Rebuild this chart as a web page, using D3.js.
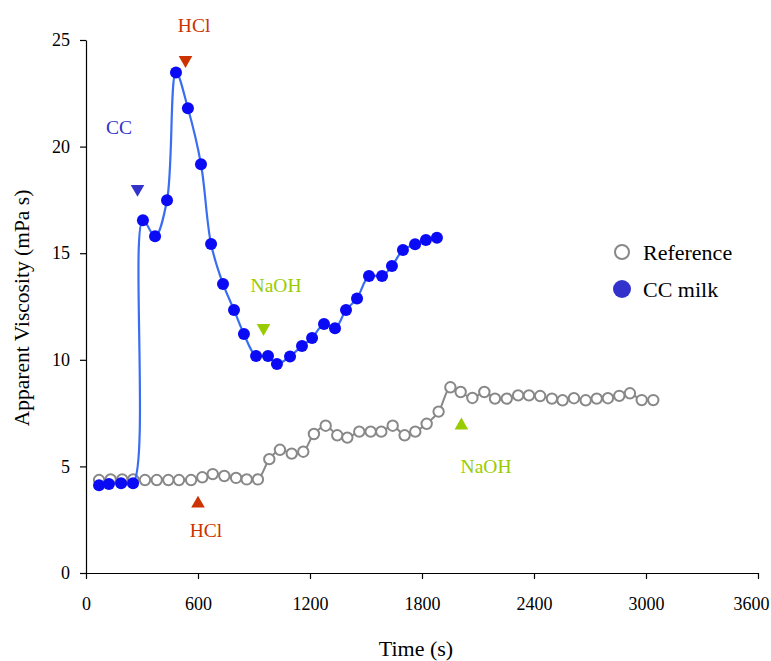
<!DOCTYPE html>
<html>
<head>
<meta charset="utf-8">
<script src="https://cdn.jsdelivr.net/npm/d3@7"></script>
<style>
  html, body { margin: 0; padding: 0; background: #fff; }
  svg { display: block; }
  text { font-family: "Liberation Serif", "Times New Roman", serif; }
</style>
</head>
<body>
<svg id="chart" width="771" height="661"></svg>
<script>
// ---------- data ----------
const refTime = [70,132,194,253,316,379,441,498,563,623,679,741,804,861,921,982,1039,1102,1164,1221,1284,1346,1400,1464,1525,1582,1643,1707,1764,1825,1889,1952,2007,2070,2134,2191,2254,2315,2373,2433,2496,2553,2614,2677,2736,2796,2857,2914,2977,3039];
const refVisc = [4.36,4.39,4.39,4.39,4.36,4.36,4.36,4.36,4.36,4.49,4.64,4.55,4.46,4.39,4.39,5.34,5.78,5.60,5.69,6.52,6.91,6.46,6.35,6.63,6.63,6.63,6.91,6.46,6.63,7.00,7.57,8.71,8.49,8.21,8.49,8.18,8.18,8.33,8.33,8.30,8.18,8.10,8.20,8.10,8.18,8.20,8.31,8.43,8.11,8.11];

const ccTime = [70,123,188,252,305,370,434,482,546,616,670,734,793,846,911,975,1023,1093,1157,1211,1275,1334,1393,1452,1516,1586,1639,1698,1763,1821,1880];
const ccVisc = [4.12,4.17,4.21,4.21,16.54,15.79,17.48,23.48,21.80,19.17,15.43,13.56,12.34,11.21,10.18,10.18,9.80,10.16,10.65,11.02,11.68,11.48,12.34,12.88,13.93,13.93,14.40,15.15,15.42,15.62,15.73];

const xTicks = [0,600,1200,1800,2400,3000,3600];
const yTicks = [0,5,10,15,20,25];

const seriesNames = ["Reference","CC milk"];

// annotations: label, marker anchor (time, viscosity), label anchor (time, viscosity), direction
const annLabel = ["CC","HCl","NaOH","HCl","NaOH"];
const annMarkT = [276,533,951,600,2011];
const annMarkV = [18.01,24.06,11.49,3.26,6.92];
const annTextT = [177,579,1018,643,2143];
const annTextV = [20.59,25.38,13.18,1.69,4.69];
const annDir   = ["down","down","down","up","up"];
const annColor = ["#3333cc","#cc3300","#99cc00","#cc3300","#99cc00"];

// ---------- chart ----------
const svg = d3.select("#chart");
const x = d3.scaleLinear().domain([0,3600]).range([86,758]);
const y = d3.scaleLinear().domain([0,25]).range([573,40]);

// axes
const xAxis = d3.axisBottom(x).tickValues(xTicks).tickFormat(d3.format("d"))
  .tickSize(6).tickSizeOuter(0).tickPadding(18);
const yAxis = d3.axisLeft(y).tickValues(yTicks).tickFormat(d3.format("d"))
  .tickSize(6).tickSizeOuter(0).tickPadding(10);

const gx = svg.append("g").attr("transform","translate(0,573)").call(xAxis);
const gy = svg.append("g").attr("transform","translate(86,0)").call(yAxis);
[gx, gy].forEach(g => {
  g.selectAll("path.domain").attr("stroke","#000").attr("stroke-width",1.2);
  g.selectAll(".tick line").attr("stroke","#000").attr("stroke-width",1.2);
  g.selectAll(".tick text").attr("fill","#000").style("font-size","18px")
    .style("font-family",'"Liberation Serif", serif');
});
// keep the last x label inside the picture
gx.selectAll(".tick text").filter(d => d === 3600)
  .attr("text-anchor","end").attr("dx", 11);

// axis titles
svg.append("text").attr("x",416).attr("y",656).attr("text-anchor","middle")
  .style("font-size","22px").text("Time (s)");
svg.append("text").attr("transform","translate(29,308) rotate(-90)").attr("text-anchor","middle")
  .style("font-size","21.5px").text("Apparent Viscosity (mPa s)");

const curve = d3.curveCatmullRom.alpha(0.5);

const refData = refTime.map((t,i)=>({t, v: refVisc[i]}));
const ccData = ccTime.map((t,i)=>({t, v: ccVisc[i]}));

const line = d3.line().x(d=>x(d.t)).y(d=>y(d.v)).curve(curve);

// reference series
svg.append("path").datum(refData).attr("d",line)
  .attr("fill","none").attr("stroke","#888888").attr("stroke-width",2);
svg.append("g").selectAll("circle").data(refData).join("circle")
  .attr("cx",d=>x(d.t)).attr("cy",d=>y(d.v)).attr("r",5.2)
  .attr("fill","#fff").attr("stroke","#888888").attr("stroke-width",2);

// CC milk series
svg.append("path").datum(ccData).attr("d",line)
  .attr("fill","none").attr("stroke","#3a6ef2").attr("stroke-width",2.2);
svg.append("g").selectAll("circle").data(ccData).join("circle")
  .attr("cx",d=>x(d.t)).attr("cy",d=>y(d.v)).attr("r",6)
  .attr("fill","#0a0af5");

// annotations
const tri = d3.symbol().type(d3.symbolTriangle).size(80);
annLabel.forEach((lab,i)=>{
  const mx = x(annMarkT[i]), my = y(annMarkV[i]);
  svg.append("path").attr("d",tri())
    .attr("transform",`translate(${mx},${my}) rotate(${annDir[i]==="down"?180:0})`)
    .attr("fill",annColor[i]);
  svg.append("text").attr("x",x(annTextT[i])).attr("y",y(annTextV[i]))
    .attr("text-anchor","middle").attr("fill",annColor[i])
    .style("font-size","19.5px").text(lab);
});

// legend
const legend = svg.append("g");
legend.append("circle").attr("cx",622).attr("cy",252).attr("r",7)
  .attr("fill","#fff").attr("stroke","#888888").attr("stroke-width",2);
legend.append("circle").attr("cx",622).attr("cy",289).attr("r",9)
  .attr("fill","#3333cc");
legend.append("text").attr("x",643).attr("y",260).style("font-size","22px").attr("fill","#000").text(seriesNames[0]);
legend.append("text").attr("x",643).attr("y",297).style("font-size","22px").attr("fill","#000").text(seriesNames[1]);
</script>
</body>
</html>
